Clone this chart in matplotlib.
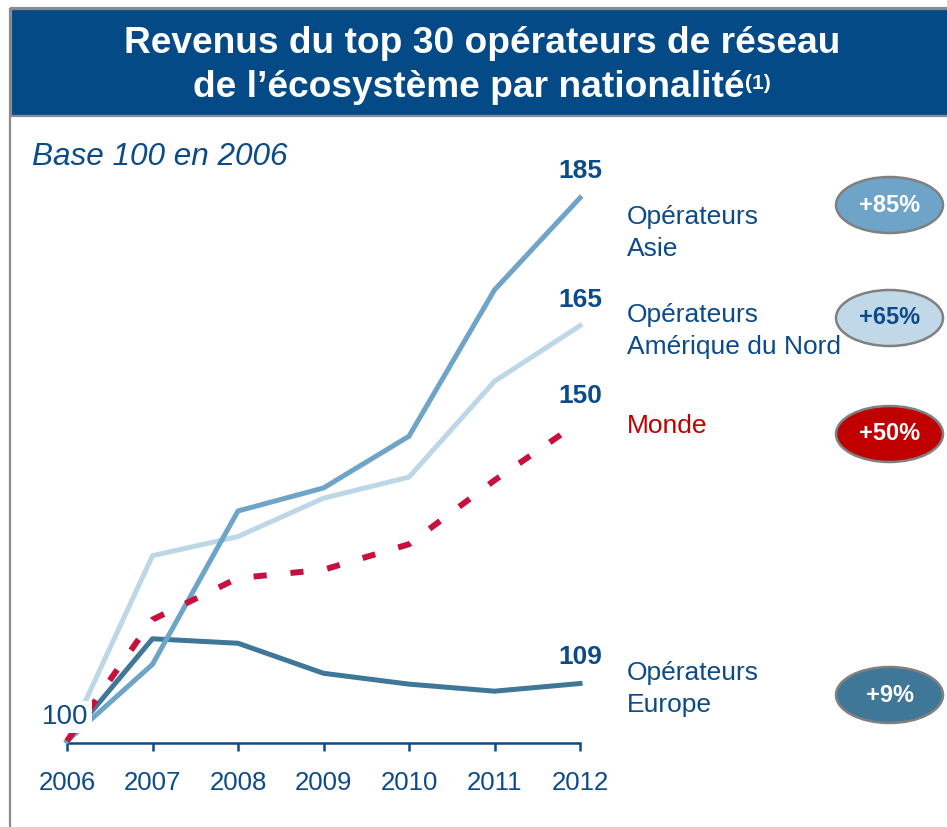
import matplotlib
matplotlib.use("Agg")
import matplotlib.pyplot as plt
from matplotlib.patches import Ellipse, Rectangle

plt.rcParams['font.family'] = ['Liberation Sans', 'DejaVu Sans']

# ---- data ----
years = [2006, 2007, 2008, 2009, 2010, 2011, 2012]
asie = [100, 112, 136, 139.6, 147.7, 170.6, 185]
amerique = [100, 129, 132, 138, 141.3, 156.3, 165]
monde = [100, 119, 125.5, 126.8, 130.8, 140.8, 150]
europe = [100, 116, 115.3, 110.6, 108.9, 107.8, 109]
end_labels = ["185", "165", "150", "109"]
series_names = [["Opérateurs", "Asie"], ["Opérateurs", "Amérique du Nord"], ["Monde"], ["Opérateurs", "Europe"]]
growth = ["+85%", "+65%", "+50%", "+9%"]

W, H = 947, 827
NAVY = "#0D4A8A"
BAR = "#044A87"
C_ASIE = "#6EA4C7"
C_AM = "#BDD7E6"
C_MONDE = "#C8103F"
C_EU = "#3E7797"
C_RED = "#C00000"

fig = plt.figure(figsize=(W / 100, H / 100), dpi=100)

def fx(x):
    return x / W

def fy(y):
    return 1 - y / H

# ---- frame & title bar ----
fig.patches.append(Rectangle((fx(9.5), fy(8)), 1, -1, transform=fig.transFigure,
                             facecolor="none", edgecolor="#8C8C8C", lw=1.6, zorder=0))
fig.patches.append(Rectangle((fx(10.5), fy(116)), 1, (116 - 9) / H, transform=fig.transFigure,
                             facecolor=BAR, edgecolor="#8C8C8C", lw=1.6, zorder=1))

fig.text(fx(482), fy(53), "Revenus du top 30 opérateurs de réseau", color="white",
         fontsize=26.7, fontweight="bold", ha="center", va="baseline")
t2 = fig.text(fx(193), fy(97), "de l’écosystème par nationalité", color="white",
              fontsize=26.7, fontweight="bold", ha="left", va="baseline")
fig.canvas.draw()
bb = t2.get_window_extent()
fig.text(bb.x1 / W + 0.001, fy(89), "(1)", color="white", fontsize=15,
         fontweight="bold", ha="left", va="baseline")

fig.text(fx(32), fy(157), "Base 100 en 2006", color=NAVY, fontsize=22.7,
         style="italic", ha="left", va="center")

# ---- axes ----
ax = fig.add_axes([fx(67), fy(743), (580 - 67) / W, (743 - 150) / H])
ax.set_zorder(5)
ax.set_xlim(2006, 2012)
ax.set_ylim(99.69, 192.49)
ax.patch.set_alpha(0)
for s in ["top", "left", "right"]:
    ax.spines[s].set_visible(False)
ax.spines["bottom"].set_color(NAVY)
ax.spines["bottom"].set_linewidth(1.8)
ax.set_yticks([])
ax.set_xticks(years)
ax.set_xticklabels([str(y) for y in years])
ax.tick_params(axis="x", direction="out", length=6, width=1.8, color=NAVY,
               labelcolor=NAVY, labelsize=18.5, pad=14)

ax.plot(years, amerique, color=C_AM, lw=3.6, clip_on=False, zorder=2)
ax.plot(years, europe, color=C_EU, lw=3.6, clip_on=False, zorder=3)
ax.plot(years, asie, color=C_ASIE, lw=3.6, clip_on=False, zorder=4)
ax.plot(years, monde, color=C_MONDE, lw=4.3, clip_on=False, zorder=5,
        linestyle=(0, (2.2, 4.0)), dash_capstyle="butt")

ax.annotate("100", xy=(years[0], monde[0]), xytext=(-2, 24), textcoords="offset pixels",
            ha="center", va="center", fontsize=20, color=NAVY, zorder=6,
            bbox=dict(boxstyle="square,pad=0.12", facecolor="white", edgecolor="none"),
            annotation_clip=False)

ends = [asie[-1], amerique[-1], monde[-1], europe[-1]]
offs = [27, 26, 26, 27]
for lab, v, o in zip(end_labels, ends, offs):
    ax.annotate(lab, xy=(years[-1], v), xytext=(0, o), textcoords="offset pixels",
                ha="center", va="center", fontsize=19, fontweight="bold", color=NAVY,
                annotation_clip=False)

# ---- series labels ----
baselines = [[224, 256], [322, 354], [433], [680, 712]]
name_colors = [NAVY, NAVY, C_RED, NAVY]
for names, bls, c in zip(series_names, baselines, name_colors):
    for n, b in zip(names, bls):
        fig.text(fx(627), fy(b), n, color=c, fontsize=19, ha="left", va="baseline")

# ---- ellipses ----
centers = [205, 318, 434, 695]
fills = [C_ASIE, "#C0D8E8", C_RED, C_EU]
txt_colors = ["white", NAVY, "white", "white"]
for g, cy, fc, tc in zip(growth, centers, fills, txt_colors):
    e = Ellipse((fx(889.5), fy(cy)), 107 / W, 56 / H, transform=fig.transFigure,
                facecolor=fc, edgecolor="#808080", lw=1.8)
    fig.patches.append(e)
    fig.text(fx(889.5), fy(cy), g, color=tc, fontsize=17, fontweight="bold",
             ha="center", va="center")

fig.savefig("out.png", dpi=100)
